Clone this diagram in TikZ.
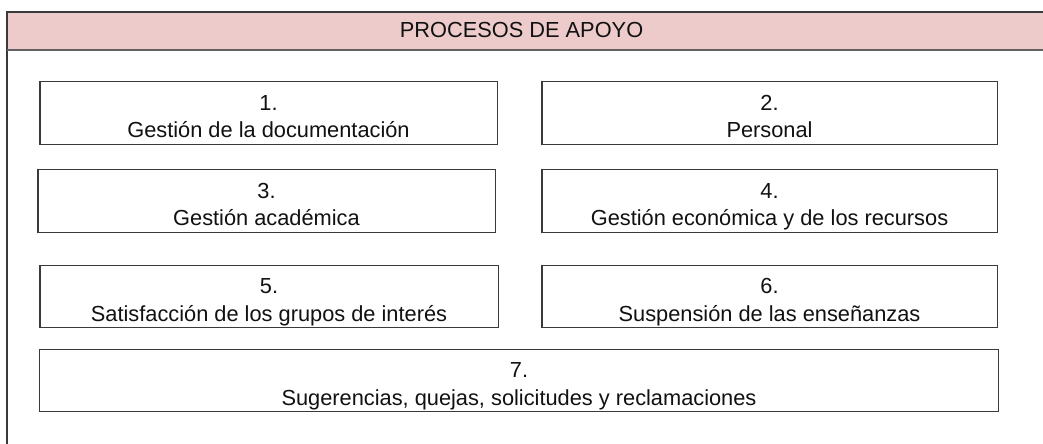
\documentclass[tikz,border=0pt]{standalone}
\usepackage{fontspec}
\setmainfont{Liberation Sans}
\definecolor{Header}{HTML}{EDCBCB}
\definecolor{Frame}{HTML}{3A3A3A}
\definecolor{Ink}{HTML}{111111}
\newcommand\topgap{\rule{0pt}{19pt}}
\newcommand\botgap{\rule[-3.4pt]{0pt}{3.4pt}}
\newcommand\proc[2]{\topgap#1\\#2\botgap}
\begin{document}
\begin{tikzpicture}[x=0.025cm,y=-0.025cm,
  every node/.style={font=\fontsize{15.5}{19.8}\selectfont,text=Ink},
  procbox/.style={draw=Frame,line width=0.8pt,fill=white,align=center,minimum height=1.57cm,inner sep=0pt}]
\useasboundingbox (0,0) rectangle (1043,443);
\clip (0,0) rectangle (1043,443);
\fill[white] (0,0) rectangle (1043,443);
% marco y cabecera
\fill[Header] (7,12) rectangle (1060,50);
\draw[Frame,line width=0.8pt] (7,460)--(7,12)--(1060,12);
\draw[Frame!80,line width=1.1pt] (7,50)--(1060,50);
\node (head) at (521.5,30){PROCESOS DE APOYO};
% procesos
\node[procbox,minimum width=11.425cm] (p1) at (268.5,113){\proc{1.}{Gestión de la documentación}};
\node[procbox,minimum width=11.375cm] (p2) at (769.5,113){\proc{2.}{Personal}};
\node[procbox,minimum width=11.425cm] (p3) at (266.5,201){\proc{3.}{Gestión académica}};
\node[procbox,minimum width=11.375cm] (p4) at (769.5,201){\proc{4.}{Gestión económica y de los recursos}};
\node[procbox,minimum width=11.45cm] (p5) at (269,296.5){\proc{5.}{Satisfacción de los grupos de interés}};
\node[procbox,minimum width=11.375cm] (p6) at (769.5,296.5){\proc{6.}{Suspensión de las enseñanzas}};
\node[procbox,minimum width=23.95cm] (p7) at (519,380.5){\proc{7.}{Sugerencias, quejas, solicitudes y reclamaciones}};
\end{tikzpicture}
\end{document}
